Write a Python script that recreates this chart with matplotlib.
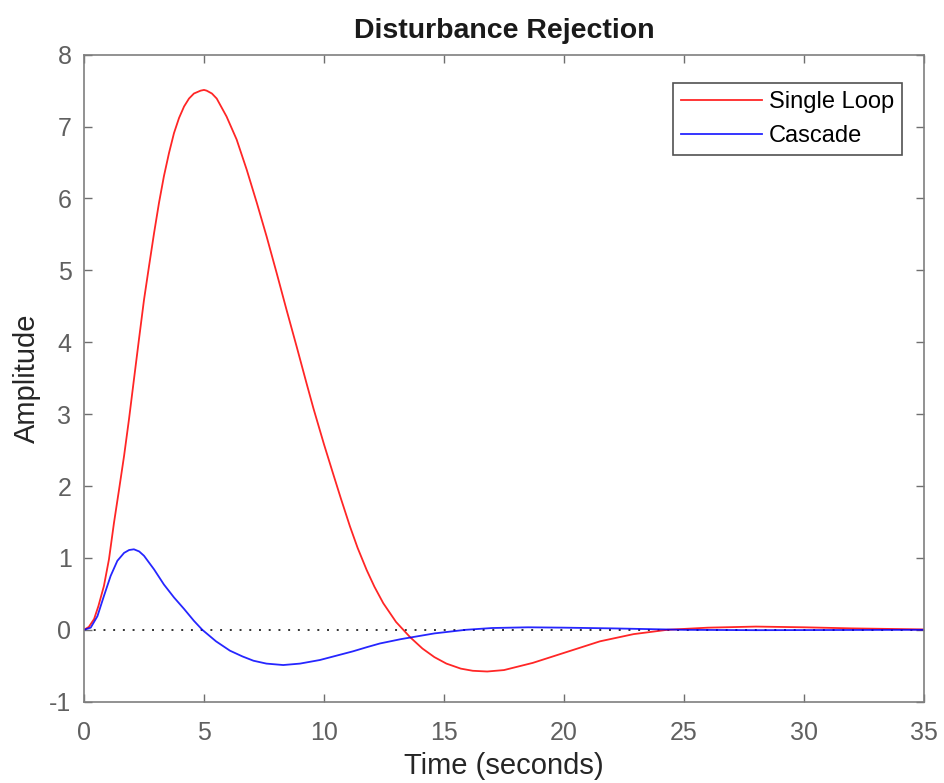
import matplotlib
matplotlib.use("Agg")
import matplotlib.pyplot as plt

plt.rcParams['font.family'] = ['Liberation Sans', 'DejaVu Sans']
plt.rcParams['axes.unicode_minus'] = False

# Single loop response (time, amplitude)
t_single = [0, 0.2, 0.42, 0.6, 0.83, 1.04, 1.25, 1.46, 1.67, 1.875, 2.08, 2.29, 2.5,
            2.71, 2.92, 3.125, 3.33, 3.54, 3.75, 3.96, 4.17, 4.375, 4.58, 4.86, 5.0,
            5.11, 5.33, 5.53, 5.94, 6.36, 6.78, 7.2, 7.61, 8.03, 8.44, 8.86, 9.28,
            9.56, 10.0, 10.39, 10.7, 11.08, 11.4, 11.78, 12.1, 12.47, 13.0, 13.58, 14.1,
            14.6, 15.1, 15.7, 16.2, 16.8, 17.5, 18.7, 20.1, 21.5, 22.9, 24.3, 26.0, 28.0,
            30.0, 32.0, 35.0]
y_single = [0, 0.04, 0.15, 0.33, 0.61, 0.98, 1.49, 1.95, 2.42, 2.93, 3.48, 4.04, 4.59,
            5.06, 5.52, 5.94, 6.31, 6.63, 6.91, 7.12, 7.28, 7.39, 7.46, 7.50, 7.51,
            7.50, 7.46, 7.39, 7.14, 6.82, 6.40, 5.94, 5.47, 4.96, 4.45, 3.94, 3.42,
            3.08, 2.58, 2.16, 1.83, 1.44, 1.14, 0.83, 0.60, 0.37, 0.11, -0.10, -0.26,
            -0.38, -0.47, -0.54, -0.57, -0.58, -0.56, -0.46, -0.31, -0.16, -0.06, 0.0, 0.03,
            0.045, 0.035, 0.02, 0.005]

# Cascade response (time, amplitude)
t_cascade = [0, 0.28, 0.56, 0.83, 1.11, 1.39, 1.67, 1.88, 2.08, 2.3, 2.5, 2.92, 3.33,
             3.75, 4.17, 4.58, 4.93, 5.5, 6.08, 6.6, 7.06, 7.6, 8.3, 9.0, 9.83, 10.4,
             11.2, 11.8, 12.33, 13.2, 14.6, 15.9, 17.0, 18.5, 20.0, 22.0, 25.0, 28.0, 35.0]
y_cascade = [0, 0.03, 0.19, 0.47, 0.75, 0.96, 1.07, 1.11, 1.12, 1.09, 1.03, 0.84, 0.63,
             0.45, 0.29, 0.125, 0.0, -0.16, -0.29, -0.37, -0.43, -0.47, -0.49, -0.47, -0.42, -0.37,
             -0.30, -0.24, -0.19, -0.13, -0.05, 0.0, 0.025, 0.035, 0.03, 0.02, 0.0, -0.005, 0.0]

x_ticks = [0, 5, 10, 15, 20, 25, 30, 35]
y_ticks = [-1, 0, 1, 2, 3, 4, 5, 6, 7, 8]

fig = plt.figure(figsize=(9.45, 7.83), dpi=100)
ax = fig.add_axes([84/945, 1 - 701.7/783, (924 - 84)/945, (701.7 - 54.7)/783])

ax.plot(t_single, y_single, color=(1, 0, 0), lw=1.3, label='Single Loop', alpha=0.85)
ax.plot(t_cascade, y_cascade, color=(0, 0, 1), lw=1.3, label='Cascade', alpha=0.85)
ax.plot([0, 35], [0, 0], color='#333333', lw=1.4, linestyle=(0, (1, 4)), zorder=1.5)

ax.set_xlim(0, 35)
ax.set_ylim(-1, 8)
ax.set_xticks(x_ticks)
ax.set_yticks(y_ticks)
ax.tick_params(direction='in', top=True, right=True, length=6, width=1,
               color='#6f6f6f', labelcolor='#606060', labelsize=18)
ax.tick_params(axis='x', pad=14)
ax.tick_params(axis='y', pad=9)
for s in ax.spines.values():
    s.set_color('#7f7f7f')
    s.set_linewidth(1.2)

ax.set_xlabel('Time (seconds)', fontsize=21, color='#262626', labelpad=5)
ax.set_ylabel('Amplitude', fontsize=21, color='#262626', labelpad=6)
ax.set_title('Disturbance Rejection', fontsize=20.5, fontweight='bold', color='#1a1a1a', pad=12)

leg = ax.legend(loc='upper right', fontsize=17, frameon=True, fancybox=False,
                edgecolor='#262626', handlelength=3.4, borderpad=0.34,
                labelspacing=0.5, handletextpad=0.3, borderaxespad=0,
                bbox_to_anchor=((902 - 84) / 840, (701.7 - 83) / 647))
leg.get_frame().set_linewidth(1.2)

fig.savefig('out.png', dpi=100)
